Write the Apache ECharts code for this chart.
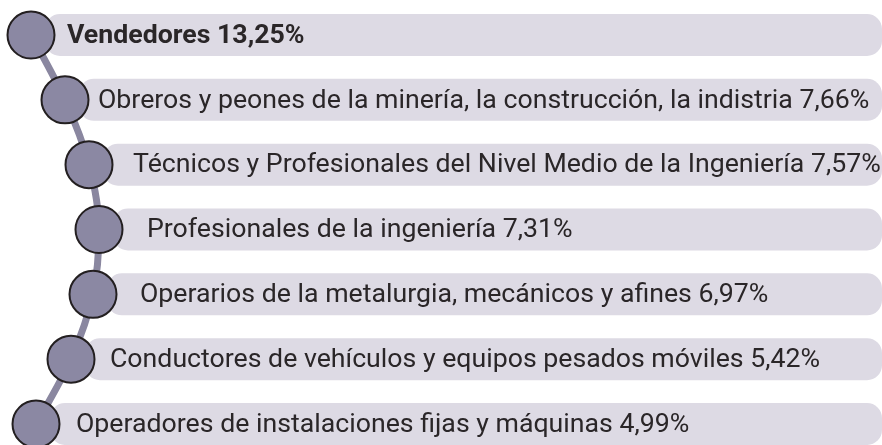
<!DOCTYPE html>
<html>
<head>
<meta charset="utf-8">
<script src="https://cdn.jsdelivr.net/npm/echarts@6/dist/echarts.min.js"></script>
<style>html,body{margin:0;padding:0;background:#fff;}#c{width:882px;height:445px;}</style>
</head>
<body>
<div id="c"></div>
<script>
const categories = [
  'Vendedores',
  'Obreros y peones de la minería, la construcción, la indistria',
  'Técnicos y Profesionales del Nivel Medio de la Ingeniería',
  'Profesionales de la ingeniería',
  'Operarios de la metalurgia, mecánicos y afines',
  'Conductores de vehículos y equipos pesados móviles',
  'Operadores de instalaciones fijas y máquinas'
];
const values = [13.25, 7.66, 7.57, 7.31, 6.97, 5.42, 4.99];

// layout (not data): horizontal position of each node and label offset
const nodeX = [31, 65, 89, 99, 93, 71, 36];
const labelOffset = [36, 33, 44, 48, 47, 39, 40];

const fmt = v => v.toFixed(2).replace('.', ',') + '%';

const chart = echarts.init(document.getElementById('c'), null, {renderer: 'canvas'});
const FONT = 'Roboto';

chart.setOption({
  animation: false,
  grid: {left: 0, right: 0, top: 35, bottom: 21},
  xAxis: {type: 'value', min: 0, max: 882, show: false},
  yAxis: {type: 'category', data: categories, inverse: true, show: false, boundaryGap: false},
  series: [
    {
      type: 'custom',
      z: 1,
      clip: false,
      data: categories.map((c, i) => [i]),
      renderItem: function (params, api) {
        const i = api.value(0);
        const band = api.size([0, 1])[1];
        const h = band * 0.648;
        const p0 = api.coord([nodeX[i] + 14, i]);
        const p1 = api.coord([882, i]);
        const pt = api.coord([nodeX[i] + labelOffset[i], i]);
        return {
          type: 'group',
          children: [
            {
              type: 'rect',
              shape: {x: p0[0], y: p0[1] - h / 2, width: p1[0] - p0[0], height: h, r: 15},
              style: {fill: '#dddae4'}
            },
            {
              type: 'text',
              style: {
                x: pt[0], y: pt[1] + 1,
                text: categories[i] + ' ' + fmt(values[i]),
                fill: '#2a2628',
                font: (i === 0 ? 'bold ' : '') + '26.7px ' + FONT,
                verticalAlign: 'middle',
                align: 'left'
              }
            }
          ]
        };
      }
    },
    {
      type: 'line',
      z: 2,
      clip: false,
      data: nodeX.map((x, i) => [x, i]),
      smooth: 0.3,
      symbol: 'none',
      lineStyle: {color: '#8a87a0', width: 7}
    },
    {
      type: 'scatter',
      z: 3,
      clip: false,
      data: nodeX.map((x, i) => [x, i]),
      symbolSize: 47,
      itemStyle: {color: '#8b88a3', borderColor: '#231f20', borderWidth: 2, opacity: 1}
    }
  ]
});
</script>
</body>
</html>
